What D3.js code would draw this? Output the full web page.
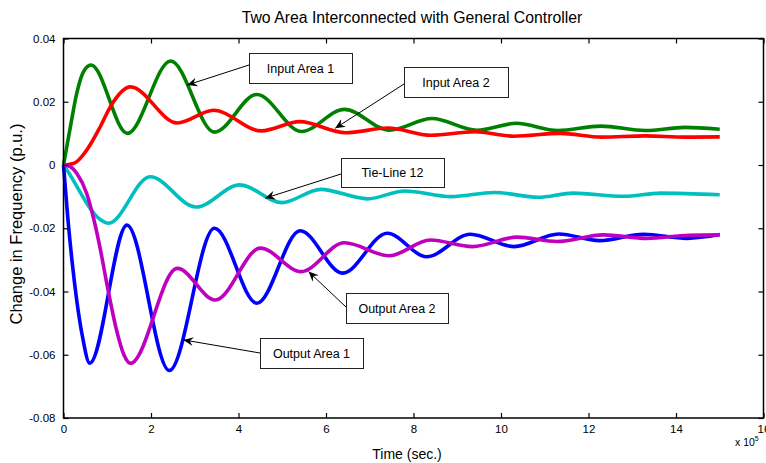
<!DOCTYPE html>
<html>
<head>
<meta charset="utf-8">
<script src="https://cdn.jsdelivr.net/npm/d3@7"></script>
<style>
  body { margin: 0; background: #fff; }
  text { font-family: "Liberation Sans", Arial, Helvetica, sans-serif; fill: #000; }
</style>
</head>
<body>
<script>
var width = 766;
var height = 463;

// time in units of 1e5 sec, change in frequency in p.u.
var inputArea1 = [[0,0],[0.15,0.0115],[0.3,0.0225],[0.45,0.0293],[0.63,0.0316],[1.46,0.0100],[2.45,0.0329],
  [3.45,0.0104],[4.42,0.0223],[5.44,0.0106],[6.42,0.0176],[7.45,0.0110],[8.42,0.0147],[9.45,0.0110],
  [10.35,0.0132],[11.3,0.0109],[12.28,0.0123],[13.3,0.0109],[14.2,0.0119],[15,0.0113]];
var inputArea2 = [[0,0],[0.25,0.0006],[0.53,0.0047],[0.84,0.0121],[1.07,0.0184],[1.53,0.0247],[2.6,0.0133],
  [3.43,0.0173],[4.52,0.0108],[5.4,0.0137],[6.45,0.0102],[7.42,0.0117],[8.4,0.0094],[9.4,0.0105],
  [10.3,0.0091],[11.35,0.0100],[12.3,0.0088],[13.3,0.0092],[14.2,0.0088],[15,0.0089]];
var tieLine12 = [[0,0],[0.08,-0.0016],[0.31,-0.0069],[0.53,-0.0121],[0.76,-0.0163],[1.03,-0.0184],[1.98,-0.0037],
  [3.03,-0.0133],[4.03,-0.0063],[4.99,-0.0119],[5.88,-0.0077],[6.95,-0.0107],[7.8,-0.0082],[8.85,-0.0100],
  [9.85,-0.0087],[10.85,-0.0102],[11.65,-0.0089],[12.8,-0.0099],[13.65,-0.0089],[15,-0.0094]];
var outputArea1 = [[0,0],[0.1,-0.017],[0.2,-0.031],[0.3,-0.0425],[0.43,-0.054],[0.6,-0.0627],[1.45,-0.019],
  [2.42,-0.065],[3.45,-0.020],[4.42,-0.0437],[5.41,-0.0208],[6.38,-0.0342],[7.4,-0.0216],[8.3,-0.0290],
  [9.3,-0.0219],[10.3,-0.0258],[11.32,-0.0218],[12.25,-0.0239],[13.26,-0.0219],[14.25,-0.0232],[15,-0.0220]];
var outputArea2 = [[0,0],[0.15,-0.0005],[0.31,-0.0028],[0.53,-0.009],[0.69,-0.0170],[0.84,-0.0265],[0.99,-0.0375],
  [1.2,-0.0515],[1.38,-0.0600],[1.53,-0.0627],[2.6,-0.0327],[3.47,-0.0427],[4.5,-0.0263],[5.43,-0.0337],
  [6.42,-0.0246],[7.45,-0.0287],[8.38,-0.0237],[9.35,-0.0258],[10.37,-0.0228],[11.28,-0.0242],
  [12.34,-0.0221],[13.33,-0.0232],[14.3,-0.0222],[15,-0.0221]];

var xTicks = [0,2,4,6,8,10,12,14,16];
var yTicks = [0.04,0.02,0,-0.02,-0.04,-0.06,-0.08];
var yTickLabels = ["0.04","0.02","0","-0.02","-0.04","-0.06","-0.08"];

var series = [
  {name: "Input Area 1", data: inputArea1, color: "#008000"},
  {name: "Input Area 2", data: inputArea2, color: "#ff0000"},
  {name: "Tie-Line 12", data: tieLine12, color: "#00bfbf"},
  {name: "Output Area 1", data: outputArea1, color: "#0000ff"},
  {name: "Output Area 2", data: outputArea2, color: "#bf00bf"}
];

// arrow targets on the curves (data coords)
var notePoints = [[2.83,0.0253],[6.21,0.0116],[4.61,-0.0105],[2.74,-0.0553],[5.6,-0.0337]];
var noteNames = ["Input Area 1","Input Area 2","Tie-Line 12","Output Area 1","Output Area 2"];
// boxes in pixels: x, y, w, h, arrow start y
var noteBoxes = [[249,53,103,30,65],[404,67,104,30,84],[341,158,103,29,174],[260,338,103,30,353],[346,293,102,30,307]];

drawChart();

function drawChart() {
  var pLeft = 63.5, pRight = 763.5, pTop = 38.5, pBottom = 418;

  var x = d3.scaleLinear().domain([0,16]).range([pLeft, pRight]);
  var y = d3.scaleLinear().domain([-0.08,0.04]).range([pBottom, pTop]);

  var svg = d3.select("body").append("svg")
    .attr("width", width)
    .attr("height", height);

  svg.append("defs").append("marker")
    .attr("id", "head")
    .attr("viewBox", "-10 -5 12 10")
    .attr("refX", 0)
    .attr("refY", 0)
    .attr("markerWidth", 12)
    .attr("markerHeight", 10)
    .attr("markerUnits", "userSpaceOnUse")
    .attr("orient", "auto")
    .append("path")
    .attr("d", "M0,0 L-10,-4.5 L-6.5,0 L-10,4.5 Z")
    .style("fill", "#000");

  // lines
  var line = d3.line()
    .x(function(d) { return x(d[0]); })
    .y(function(d) { return y(d[1]); })
    .curve(d3.curveMonotoneX);

  svg.append("g").selectAll("path")
    .data(series)
    .enter().append("path")
    .attr("d", function(d) { return line(d.data); })
    .style("fill", "none")
    .style("stroke", function(d) { return d.color; })
    .style("stroke-width", 3.6)
    .style("stroke-linejoin", "round");

  // axes, ticks pointing inward
  svg.append("g")
    .attr("transform", "translate(0," + pBottom + ")")
    .call(d3.axisBottom(x).tickValues(xTicks).tickSizeInner(-5).tickSizeOuter(0).tickPadding(7));
  svg.append("g")
    .attr("transform", "translate(0," + pTop + ")")
    .call(d3.axisTop(x).tickValues(xTicks).tickSizeInner(-5).tickSizeOuter(0).tickFormat(""));
  svg.append("g")
    .attr("transform", "translate(" + pLeft + ",0)")
    .call(d3.axisLeft(y).tickValues(yTicks).tickSizeInner(-5).tickSizeOuter(0).tickPadding(8)
      .tickFormat(function(d, i) { return yTickLabels[i]; }));
  svg.append("g")
    .attr("transform", "translate(" + pRight + ",0)")
    .call(d3.axisRight(y).tickValues(yTicks).tickSizeInner(-5).tickSizeOuter(0).tickFormat(""));

  svg.selectAll(".domain").remove();
  svg.selectAll(".tick line").style("stroke", "#000").style("stroke-width", 1.2);
  svg.selectAll(".tick text").style("font-size", "11.5px").style("font-family", "'Liberation Sans', Arial, sans-serif");

  svg.append("rect")
    .attr("x", pLeft).attr("y", pTop)
    .attr("width", pRight - pLeft).attr("height", pBottom - pTop)
    .style("fill", "none")
    .style("stroke", "#000")
    .style("stroke-width", 1.5);

  // texts
  svg.append("text")
    .attr("x", 412)
    .attr("y", 23)
    .attr("text-anchor", "middle")
    .style("font-size", "15.8px")
    .text("Two Area Interconnected with General Controller");

  svg.append("text")
    .attr("x", 407)
    .attr("y", 459)
    .attr("text-anchor", "middle")
    .style("font-size", "14px")
    .text("Time (sec.)");

  svg.append("text")
    .attr("transform", "translate(22,224) rotate(-90)")
    .attr("text-anchor", "middle")
    .style("font-size", "16.5px")
    .text("Change in Frequency (p.u.)");

  var expo = svg.append("text")
    .attr("x", 735)
    .attr("y", 446)
    .style("font-size", "10.5px");
  expo.append("tspan").text("x 10");
  expo.append("tspan").attr("dy", -5).style("font-size", "7px").text("5");

  // annotations
  noteNames.forEach(function(name, i) {
    var b = noteBoxes[i];
    var p = notePoints[i];
    var g = svg.append("g");
    g.append("line")
      .attr("x1", b[0]).attr("y1", b[4])
      .attr("x2", x(p[0])).attr("y2", y(p[1]))
      .style("stroke", "#000")
      .style("stroke-width", 1)
      .attr("marker-end", "url(#head)");
    g.append("rect")
      .attr("x", b[0] + 0.5).attr("y", b[1] + 0.5)
      .attr("width", b[2]).attr("height", b[3])
      .style("fill", "#fff")
      .style("stroke", "#222")
      .style("stroke-width", 1);
    g.append("text")
      .attr("x", b[0] + b[2] / 2)
      .attr("y", b[1] + b[3] / 2 + 4.5)
      .attr("text-anchor", "middle")
      .style("font-size", "12.5px")
      .text(name);
  });
}
</script>
</body>
</html>
